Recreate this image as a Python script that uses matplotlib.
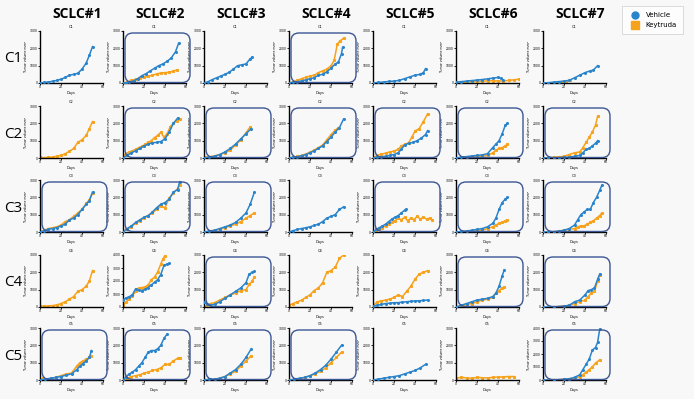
import matplotlib
matplotlib.use("Agg")
import matplotlib.pyplot as plt
from matplotlib.patches import FancyBboxPatch
from matplotlib.lines import Line2D
from matplotlib.transforms import IdentityTransform

models = ["SCLC#1", "SCLC#2", "SCLC#3", "SCLC#4", "SCLC#5", "SCLC#6", "SCLC#7"]
rows = ["C1", "C2", "C3", "C4", "C5"]

# ---- C1 ----
C1_veh_days = [
    [0, 4, 8, 12, 16, 20, 24, 28, 32, 36, 40, 44, 47, 50],
    [0, 3, 6, 10, 14, 18, 22, 26, 30, 34, 38, 42, 46, 50, 53],
    [0, 4, 8, 12, 16, 20, 24, 28, 32, 36, 40, 44, 46],
    [0, 4, 8, 12, 16, 20, 24, 28, 32, 36, 40, 44, 47, 50, 51],
    [0, 5, 10, 15, 20, 25, 30, 35, 40, 45, 48, 50],
    [0, 5, 10, 15, 20, 25, 30, 35, 40, 43, 45],
    [0, 5, 10, 15, 20, 25, 30, 35, 40, 45, 48, 52],
]
C1_veh_vol = [
    [0, 30, 60, 100, 150, 220, 320, 450, 500, 560, 800, 1150, 1600, 2100],
    [0, 20, 60, 120, 250, 420, 540, 700, 850, 1000, 1100, 1250, 1450, 1800, 2300],
    [0, 80, 200, 300, 400, 500, 620, 800, 1000, 1050, 1100, 1400, 1500],
    [0, 40, 80, 120, 180, 250, 300, 450, 500, 650, 850, 1100, 1200, 1700, 2050],
    [0, 30, 60, 90, 110, 150, 250, 350, 450, 500, 600, 830],
    [50, 80, 110, 140, 170, 200, 240, 280, 320, 260, 150],
    [0, 20, 50, 80, 110, 150, 300, 450, 600, 700, 750, 1000],
]
C1_key_days = [
    None,
    [0, 4, 8, 12, 16, 20, 24, 28, 32, 36, 40, 44, 48, 51],
    None,
    [0, 4, 8, 12, 16, 20, 24, 28, 32, 36, 40, 43, 46, 49, 52],
    None,
    [0, 5, 10, 15, 20, 25, 30, 35, 40, 45, 50, 55, 60],
    [10, 14, 18, 22, 26],
]
C1_key_vol = [
    None,
    [0, 60, 150, 220, 280, 330, 380, 450, 520, 580, 600, 620, 680, 750],
    None,
    [0, 80, 150, 250, 330, 400, 450, 600, 700, 800, 1000, 1300, 2250, 2450, 2580],
    None,
    [0, 30, 60, 80, 90, 100, 120, 140, 120, 110, 150, 180, 220],
    [20, 50, 80, 120, 150],
]

# ---- C2 ----
C2_veh_days = [
    None,
    [0, 4, 8, 12, 16, 20, 24, 28, 32, 36, 40, 44, 48, 52],
    [0, 5, 10, 15, 20, 25, 30, 35, 40, 45],
    [0, 4, 8, 12, 16, 20, 24, 28, 32, 36, 40, 44, 48, 52],
    [0, 4, 8, 12, 16, 20, 24, 27, 30, 34, 38, 42, 46, 50, 52],
    [0, 5, 10, 15, 20, 25, 30, 35, 38, 41, 44, 47, 49],
    [0, 5, 10, 15, 20, 25, 30, 35, 38, 41, 44, 47, 50, 52],
]
C2_veh_vol = [
    None,
    [0, 150, 300, 420, 550, 700, 800, 880, 900, 950, 1100, 1500, 2000, 2300],
    [0, 50, 100, 200, 350, 550, 800, 1100, 1400, 1700],
    [0, 50, 80, 130, 200, 300, 420, 550, 700, 950, 1200, 1500, 1750, 2250],
    [0, 50, 80, 100, 150, 200, 300, 500, 750, 850, 900, 1000, 1150, 1350, 1580],
    [0, 50, 80, 120, 150, 180, 250, 600, 800, 1000, 1400, 1900, 2000],
    [0, 0, 10, 20, 30, 50, 100, 150, 300, 500, 550, 700, 850, 1000],
]
C2_key_days = [
    [0, 4, 8, 12, 16, 20, 24, 28, 32, 36, 40, 44, 47, 50],
    [0, 3, 6, 9, 12, 15, 18, 21, 24, 27, 30, 33, 36, 39, 42, 45, 48, 51, 54],
    [0, 5, 10, 15, 20, 25, 30, 35, 40, 44],
    [0, 4, 8, 12, 16, 20, 24, 28, 32, 36, 40, 44, 47],
    [0, 4, 8, 12, 16, 20, 24, 27, 30, 34, 37, 40, 44, 48, 52],
    [0, 5, 10, 15, 20, 25, 30, 35, 38, 41, 44, 47, 49],
    [0, 5, 10, 15, 20, 25, 30, 35, 38, 41, 44, 47, 50, 52],
]
C2_key_vol = [
    [50, 20, 30, 60, 100, 150, 250, 380, 550, 900, 1050, 1300, 1700, 2100],
    [100, 250, 350, 420, 500, 600, 680, 780, 900, 1000, 1180, 1300, 1480, 1200, 1400, 1800, 2000, 2150, 2230],
    [50, 80, 120, 200, 300, 450, 750, 1050, 1450, 1800],
    [0, 40, 90, 150, 230, 330, 460, 600, 750, 1050, 1350, 1600, 1750],
    [0, 150, 220, 280, 350, 400, 500, 700, 780, 880, 1200, 1550, 1700, 2100, 2550],
    [0, 20, 40, 60, 80, 100, 150, 300, 450, 550, 600, 700, 800],
    [0, 20, 40, 60, 100, 200, 300, 350, 600, 900, 1200, 1500, 1900, 2400],
]

# ---- C3 ----
C3_veh_days = [
    [0, 4, 8, 12, 16, 20, 24, 28, 32, 36, 40, 44, 47, 50],
    [0, 4, 8, 12, 16, 20, 24, 28, 32, 36, 40, 44, 48, 52, 54],
    [0, 5, 10, 15, 20, 25, 30, 35, 40, 44, 48],
    [0, 4, 8, 12, 16, 20, 24, 28, 32, 36, 40, 44, 48, 52],
    [0, 3, 6, 9, 12, 15, 18, 21, 24, 27, 30, 31],
    [0, 5, 10, 15, 20, 25, 30, 35, 38, 41, 44, 47, 49],
    [0, 5, 10, 15, 20, 25, 30, 33, 36, 39, 42, 45, 48, 51, 54, 56],
]
C3_veh_vol = [
    [0, 80, 150, 200, 250, 350, 450, 700, 800, 1000, 1300, 1600, 1800, 2300],
    [0, 200, 350, 550, 700, 850, 950, 1150, 1400, 1600, 1700, 1900, 2300, 2450, 2900],
    [0, 50, 100, 200, 300, 400, 550, 800, 1100, 1600, 2300],
    [0, 80, 150, 200, 250, 300, 380, 450, 600, 800, 900, 1000, 1300, 1450],
    [0, 150, 250, 350, 450, 600, 750, 850, 950, 1100, 1250, 1300],
    [0, 30, 60, 100, 150, 200, 300, 500, 800, 1300, 1700, 1900, 2000],
    [0, 0, 20, 50, 100, 200, 400, 700, 1000, 1150, 1300, 1300, 1700, 2000, 2400, 2700],
]
C3_key_days = [
    [0, 4, 8, 12, 16, 20, 24, 28, 32, 36, 40, 44, 47, 50],
    [0, 4, 8, 12, 16, 20, 24, 28, 32, 36, 40, 44, 48, 52, 54],
    [0, 5, 10, 15, 20, 25, 30, 35, 40, 44, 48],
    None,
    [0, 3, 6, 9, 12, 15, 18, 21, 24, 27, 30, 33, 36, 39, 42, 45, 48, 51, 54, 56],
    [0, 5, 10, 15, 20, 25, 30, 35, 38, 41, 44, 47, 49],
    [10, 15, 20, 25, 30, 33, 36, 39, 42, 45, 48, 51, 54, 56],
]
C3_key_vol = [
    [0, 100, 200, 250, 300, 400, 600, 700, 900, 1100, 1300, 1650, 1850, 2250],
    [50, 150, 300, 500, 650, 800, 950, 1100, 1300, 1500, 1400, 1950, 2250, 2500, 2700],
    [0, 50, 100, 150, 250, 350, 450, 600, 800, 950, 1100],
    None,
    [0, 80, 150, 250, 350, 450, 550, 650, 800, 700, 850, 650, 800, 700, 900, 750, 850, 750, 800, 700],
    [0, 10, 20, 40, 60, 100, 200, 300, 400, 500, 550, 650, 700],
    [0, 50, 100, 150, 200, 300, 350, 350, 450, 550, 650, 800, 950, 1100],
]

# ---- C4 ----
C4_veh_days = [
    None,
    [0, 3, 6, 9, 12, 15, 18, 21, 24, 27, 30, 33, 36, 39, 42, 44],
    [0, 3, 6, 10, 15, 20, 25, 30, 35, 40, 43, 46, 48],
    None,
    [0, 4, 8, 12, 16, 20, 24, 28, 32, 36, 40, 44, 48, 52],
    [0, 5, 10, 15, 20, 25, 30, 35, 38, 41, 44, 46],
    [0, 10, 20, 25, 30, 35, 40, 43, 46, 49, 52, 54],
]
C4_veh_vol = [
    None,
    [550, 700, 800, 950, 1400, 1300, 1250, 1350, 1500, 1700, 1900, 2100, 2500, 3200, 3300, 3350],
    [300, 150, 100, 150, 300, 500, 700, 900, 1100, 1400, 1900, 2000, 2050],
    None,
    [50, 100, 150, 200, 220, 250, 250, 280, 300, 330, 350, 360, 380, 400],
    [0, 100, 200, 300, 400, 450, 500, 600, 800, 1200, 1800, 2150],
    [0, 0, 50, 100, 300, 400, 700, 950, 1000, 1100, 1600, 1900],
]
C4_key_days = [
    [0, 4, 8, 12, 16, 20, 24, 28, 32, 36, 40, 44, 47, 50],
    [0, 3, 6, 9, 12, 15, 18, 21, 24, 27, 30, 33, 36, 38, 40],
    [0, 3, 6, 10, 15, 20, 25, 30, 35, 40, 43, 46, 48],
    [0, 4, 8, 12, 16, 20, 24, 28, 32, 36, 40, 44, 48, 52],
    [0, 4, 8, 12, 16, 20, 24, 28, 32, 36, 40, 44, 48, 52],
    [0, 5, 10, 15, 20, 25, 30, 35, 38, 41, 44, 46],
    [10, 20, 25, 30, 35, 40, 43, 46, 49, 52, 54],
]
C4_key_vol = [
    [50, 50, 60, 80, 120, 200, 300, 450, 600, 900, 1000, 1200, 1500, 2100],
    [150, 400, 600, 850, 1200, 1450, 1500, 1550, 1700, 2100, 2300, 2700, 3300, 3700, 3950],
    [0, 100, 200, 250, 400, 550, 700, 800, 950, 1000, 1300, 1500, 1750],
    [100, 200, 300, 400, 550, 700, 950, 1100, 1400, 2000, 2100, 2300, 2800, 3000],
    [50, 300, 350, 400, 450, 550, 700, 600, 900, 1200, 1600, 1900, 2000, 2100],
    [0, 50, 150, 200, 300, 400, 450, 550, 800, 950, 1100, 1150],
    [0, 50, 100, 200, 300, 400, 600, 800, 900, 1500, 1850],
]

# ---- C5 ----
C5_veh_days = [
    [0, 5, 10, 15, 20, 25, 30, 35, 38, 41, 44, 47, 49],
    [0, 3, 6, 9, 12, 15, 18, 21, 24, 27, 30, 33, 36, 39, 42],
    [0, 5, 10, 15, 20, 25, 30, 35, 40, 45],
    [0, 5, 10, 15, 20, 25, 30, 35, 40, 45, 50],
    [0, 5, 10, 15, 20, 25, 30, 35, 40, 45, 50],
    None,
    [0, 10, 20, 25, 30, 35, 38, 41, 44, 47, 50, 52, 54],
]
C5_veh_vol = [
    [0, 50, 100, 150, 200, 280, 350, 600, 800, 950, 1100, 1300, 1700],
    [0, 200, 350, 450, 600, 800, 1000, 1300, 1600, 1700, 1700, 1800, 2000, 2400, 2650],
    [0, 50, 50, 100, 200, 400, 600, 900, 1300, 1800],
    [0, 50, 100, 150, 250, 400, 600, 850, 1200, 1600, 2000],
    [0, 50, 100, 150, 200, 250, 350, 450, 550, 700, 900],
    None,
    [0, 0, 50, 100, 200, 400, 800, 1200, 1600, 2300, 2500, 2900, 3900],
]
C5_key_days = [
    [0, 3, 6, 10, 15, 20, 25, 30, 35, 38, 41, 44, 47, 49],
    [0, 4, 8, 12, 16, 20, 24, 28, 32, 36, 40, 44, 48, 52, 54],
    [0, 5, 10, 15, 20, 25, 30, 35, 40, 45],
    [0, 5, 10, 15, 20, 25, 30, 35, 40, 45, 50],
    None,
    [0, 5, 10, 15, 20, 25, 30, 35, 40, 45, 50, 55],
    [0, 10, 20, 25, 30, 35, 38, 41, 44, 47, 50, 54],
]
C5_key_vol = [
    [0, 100, 50, 80, 150, 250, 350, 400, 800, 1000, 1100, 1200, 1300, 1400],
    [0, 100, 200, 250, 300, 400, 450, 550, 600, 700, 900, 900, 1100, 1250, 1270],
    [0, 20, 40, 100, 200, 350, 500, 800, 1100, 1400],
    [0, 30, 80, 150, 250, 350, 500, 700, 1000, 1300, 1600],
    None,
    [100, 150, 120, 100, 150, 130, 120, 150, 170, 180, 200, 200],
    [0, 0, 50, 80, 150, 250, 400, 600, 800, 1000, 1300, 1550],
]

# highlighted (boxed) panels
C1_boxed = [0, 1, 0, 1, 0, 0, 0]
C2_boxed = [0, 1, 1, 1, 1, 1, 1]
C3_boxed = [1, 1, 1, 0, 1, 1, 1]
C4_boxed = [0, 0, 1, 0, 0, 1, 1]
C5_boxed = [1, 1, 1, 1, 0, 0, 1]

# y-axis maximum per panel
C1_ymax = [3000] * 7
C2_ymax = [3000] * 7
C3_ymax = [3000] * 7
C4_ymax = [3000, 4000, 3000, 3000, 3000, 3000, 3000]
C5_ymax = [3000, 3000, 3000, 3000, 3000, 3000, 4000]

veh_days = [C1_veh_days, C2_veh_days, C3_veh_days, C4_veh_days, C5_veh_days]
veh_vol = [C1_veh_vol, C2_veh_vol, C3_veh_vol, C4_veh_vol, C5_veh_vol]
key_days = [C1_key_days, C2_key_days, C3_key_days, C4_key_days, C5_key_days]
key_vol = [C1_key_vol, C2_key_vol, C3_key_vol, C4_key_vol, C5_key_vol]
boxed = [C1_boxed, C2_boxed, C3_boxed, C4_boxed, C5_boxed]
ymaxes = [C1_ymax, C2_ymax, C3_ymax, C4_ymax, C5_ymax]

BLUE = "#2a84cc"
ORANGE = "#f7a21b"
FRAME = "#3b5795"

W, H = 694, 399
fig = plt.figure(figsize=(W / 100, H / 100), dpi=100)
fig.patch.set_facecolor("#f8f8f8")

col_left = [40, 123, 204, 289, 373, 456, 543]
row_top = [31, 106, 180, 255, 328]
aw, ah = 63, 52

for c, name in enumerate(models):
    fig.text((col_left[c] + 37) / W, 1 - 14 / H, name, ha="center", va="center",
             fontsize=10, fontweight="bold", family="Open Sans")

for r, lab in enumerate(rows):
    fig.text(13 / W, 1 - (row_top[r] + 28) / H, lab, ha="center", va="center",
             fontsize=11, family="Open Sans")

    for c in range(7):
        x0, y0 = col_left[c], row_top[r]
        ax = fig.add_axes([x0 / W, 1 - (y0 + ah) / H, aw / W, ah / H])
        ax.set_facecolor("none")
        if veh_days[r][c] is not None:
            ax.plot(veh_days[r][c], veh_vol[r][c], color=BLUE, lw=1.1,
                    marker="o", ms=1.2, zorder=3)
        if key_days[r][c] is not None:
            ax.plot(key_days[r][c], key_vol[r][c], color=ORANGE, lw=1.1,
                    marker="s", ms=1.2, zorder=2)
        ymax = ymaxes[r][c]
        ax.set_xlim(0, 60)
        ax.set_ylim(0, ymax)
        ax.set_xticks([0, 20, 40, 60])
        ax.set_yticks(list(range(0, ymax + 1, 1000)))
        ax.tick_params(labelsize=2.2, length=1.2, width=0.6, pad=0.5)
        for s in ["top", "right"]:
            ax.spines[s].set_visible(False)
        for s in ["left", "bottom"]:
            ax.spines[s].set_linewidth(1.0)
        ax.set_title(rows[r], fontsize=2.5, pad=2)
        ax.set_xlabel("Days", fontsize=2.5, labelpad=1)
        ax.set_ylabel("Tumor volume mm³", fontsize=2.3, labelpad=1)

        if boxed[r][c]:
            bx = x0 + 2
            by = H - (y0 + ah)
            patch = FancyBboxPatch((bx, by + 0.5), aw + 2, ah - 2.5,
                                   boxstyle="round,pad=0,rounding_size=8",
                                   transform=IdentityTransform(),
                                   fill=False, edgecolor=FRAME, lw=1.0, zorder=5)
            fig.patches.append(patch)

handles = [
    Line2D([], [], color=BLUE, marker="o", ls="none", ms=5, label="Vehicle"),
    Line2D([], [], color=ORANGE, marker="s", ls="none", ms=6, label="Keytruda"),
]
leg = fig.legend(handles=handles, loc="upper right", bbox_to_anchor=(686 / W, 1 - 3 / H),
                 fontsize=5, frameon=True, fancybox=False, handletextpad=0.6,
                 borderpad=0.8, labelspacing=0.6)
leg.get_frame().set_edgecolor("#cccccc")
leg.get_frame().set_linewidth(0.6)

fig.savefig("out.png", dpi=100, facecolor=fig.get_facecolor())
